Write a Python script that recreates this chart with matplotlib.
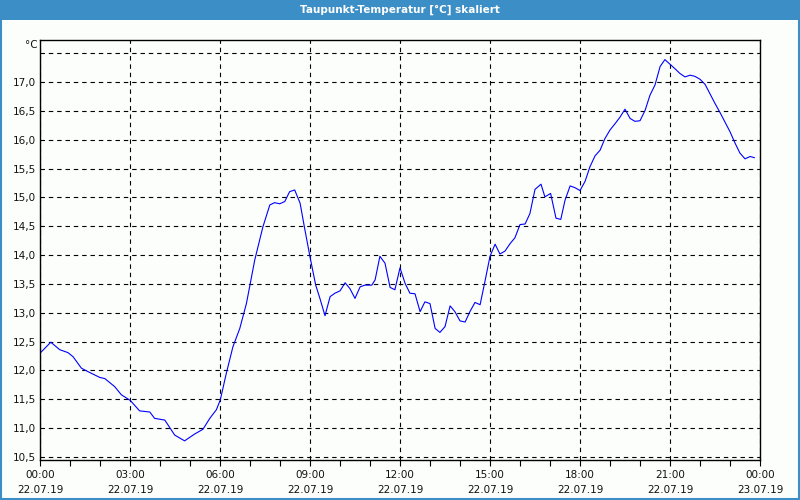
import matplotlib.pyplot as plt
from matplotlib.patches import Rectangle
import numpy as np

# hours since 22.07.19 00:00
hours = [0.02, 0.36, 0.66, 0.93, 1.1, 1.38, 1.6, 1.99, 2.16, 2.49, 2.71, 3.01,
         3.32, 3.66, 3.82, 4.16, 4.49, 4.82, 5.16, 5.43, 5.66, 5.88, 6.01, 6.21,
         6.43, 6.66, 6.88, 7.16, 7.43, 7.66, 7.82, 7.99, 8.16, 8.32, 8.49, 8.67,
         8.83, 9.0, 9.19, 9.33, 9.5, 9.67, 9.83, 10.0, 10.17, 10.33, 10.5, 10.67,
         10.83, 11.06, 11.17, 11.33, 11.5, 11.67, 11.83, 12.0, 12.17, 12.33, 12.5,
         12.67, 12.83, 13.0, 13.17, 13.33, 13.5, 13.67, 13.83, 14.0, 14.17, 14.33,
         14.5, 14.67, 14.83, 15.0, 15.17, 15.33, 15.5, 15.67, 15.83, 16.0, 16.17,
         16.33, 16.5, 16.7, 16.83, 17.02, 17.2, 17.36, 17.5, 17.67, 17.83, 18.0,
         18.17, 18.33, 18.5, 18.67, 18.83, 19.0, 19.17, 19.33, 19.5, 19.67, 19.83,
         20.0, 20.17, 20.33, 20.5, 20.67, 20.83, 21.0, 21.17, 21.33, 21.5, 21.67,
         21.83, 22.0, 22.17, 22.33, 22.5, 22.67, 22.83, 23.0, 23.17, 23.33, 23.5,
         23.67, 23.81]
dewpoint = [12.31, 12.49, 12.36, 12.31, 12.24, 12.04, 11.98, 11.88, 11.86, 11.72,
            11.58, 11.48, 11.30, 11.28, 11.17, 11.14, 10.88, 10.78, 10.90, 10.98,
            11.17, 11.32, 11.49, 11.95, 12.41, 12.73, 13.16, 13.92, 14.49, 14.87,
            14.91, 14.89, 14.93, 15.10, 15.13, 14.90, 14.44, 13.97, 13.48, 13.25,
            12.95, 13.28, 13.34, 13.38, 13.52, 13.42, 13.25, 13.45, 13.48, 13.48,
            13.57, 13.98, 13.86, 13.44, 13.40, 13.78, 13.51, 13.34, 13.33, 13.02,
            13.19, 13.16, 12.73, 12.66, 12.76, 13.12, 13.02, 12.86, 12.84, 13.02,
            13.18, 13.14, 13.54, 13.98, 14.19, 14.02, 14.07, 14.20, 14.30, 14.53,
            14.54, 14.72, 15.14, 15.23, 15.01, 15.07, 14.64, 14.62, 14.95, 15.20,
            15.17, 15.12, 15.28, 15.53, 15.72, 15.82, 16.02, 16.17, 16.28, 16.39,
            16.53, 16.37, 16.32, 16.33, 16.51, 16.77, 16.95, 17.27, 17.39, 17.31,
            17.23, 17.15, 17.09, 17.12, 17.10, 17.05, 16.96, 16.80, 16.63, 16.47,
            16.31, 16.14, 15.94, 15.77, 15.67, 15.71, 15.69]

x_ticks = [0, 3, 6, 9, 12, 15, 18, 21, 24]
x_labels = ["00:00\n22.07.19", "03:00\n22.07.19", "06:00\n22.07.19",
            "09:00\n22.07.19", "12:00\n22.07.19", "15:00\n22.07.19",
            "18:00\n22.07.19", "21:00\n22.07.19", "00:00\n23.07.19"]
y_ticks = [10.5, 11.0, 11.5, 12.0, 12.5, 13.0, 13.5, 14.0, 14.5, 15.0,
           15.5, 16.0, 16.5, 17.0, 17.5]

bg = "#fcfefc"
bar = "#3c8fc6"

fig = plt.figure(figsize=(8, 5), dpi=100, facecolor=bg)
ax = fig.add_axes([0.05, 0.08, 0.9, 0.84], facecolor=bg)

ax.plot(hours, dewpoint, color="#0000ff", lw=0.8)

ax.set_xlim(0, 24)
ax.set_ylim(10.448, 17.73)
ax.set_xticks(x_ticks)
ax.set_xticklabels(x_labels, fontsize=7.5, linespacing=1.6, color="#111111")
ax.set_xticks(np.arange(0, 25, 1), minor=True)
ax.set_yticks(y_ticks)
ax.set_yticklabels([f"{v:.1f}".replace(".", ",") if v < 17.5 else "" for v in y_ticks],
                   fontsize=7.5, color="#111111")
ax.tick_params(axis="x", which="both", length=4, width=0.8, pad=3, direction="out")
ax.tick_params(axis="y", length=0, pad=3)
ax.grid(True, which="major", color="black", lw=0.8, linestyle=(0, (4, 3.5)))
for s in ax.spines.values():
    s.set_linewidth(1.0)
    s.set_color("black")

fig.text(0.047, 0.91, "°C", fontsize=7.5, ha="right", va="center", color="#111111")

# title bar and frame
fig.patches.append(Rectangle((0, 0.96), 1, 0.04, transform=fig.transFigure,
                             facecolor=bar, edgecolor="none"))
fig.patches.append(Rectangle((0.001, 0.002), 0.998, 0.997, transform=fig.transFigure,
                             facecolor="none", edgecolor=bar, lw=1.5))
fig.text(0.5, 0.981, "Taupunkt-Temperatur [°C] skaliert", fontsize=7.5,
         fontweight="bold", ha="center", va="center", color="white")

fig.savefig("out.png", dpi=100, facecolor=bg)
